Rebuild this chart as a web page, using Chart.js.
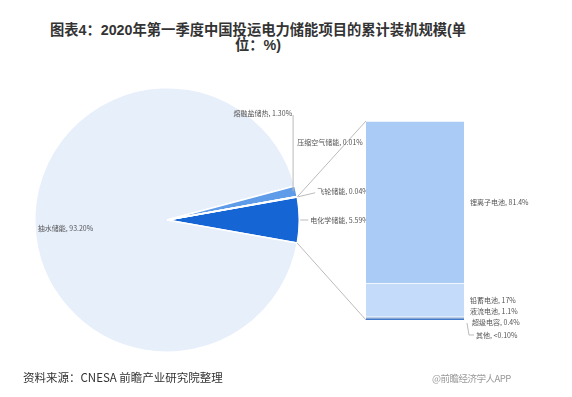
<!DOCTYPE html>
<html>
<head>
<meta charset="utf-8">
<script src="https://cdn.jsdelivr.net/npm/chart.js@4.4.1/dist/chart.umd.min.js"></script>
<style>
  body { margin: 0; background: #fff; font-family: "Noto Sans CJK SC", sans-serif; }
  #stage { position: relative; width: 572px; height: 397px; overflow: hidden; }
  #title {
    position: absolute; left: 0; top: 23px; width: 516px; text-align: center;
    font: bold 14.3px "Liberation Sans", "Noto Sans CJK SC", sans-serif; line-height: 15px; color: #333;
  }
  .layer { position: absolute; left: 0; top: 60px; width: 572px; height: 320px; }
  #source { position: absolute; left: 23px; top: 369px; font-size: 11.5px; color: #333; }
  #mark { position: absolute; left: 432px; top: 371px; font-size: 9.5px; color: #999; letter-spacing: -0.5px; }
</style>
</head>
<body>
<div id="stage">
  <div id="title">图表4：2020年第一季度中国投运电力储能项目的累计装机规模(单<br>位：%)</div>
  <canvas id="pieChart" class="layer" width="572" height="320"></canvas>
  <canvas id="barChart" class="layer" width="572" height="320"></canvas>
  <div id="source">资料来源：CNESA 前瞻产业研究院整理</div>
  <div id="mark">@前瞻经济学人APP</div>
</div>

<script>
// Pie: storage types (order = clockwise drawing order)
const pieLabels = ["电化学储能", "抽水储能", "熔融盐储热", "压缩空气储能", "飞轮储能"];
const pieValues = [5.59, 93.20, 1.30, 0.01, 0.04];
const pieColors = ["#1565d4", "#e7effb", "#5e9be8", "#3f7fde", "#3f7fde"];

// Bar: electrochemical breakdown (bottom to top)
const barLabels = ["其他", "超级电容", "液流电池", "铅蓄电池", "锂离子电池"];
const barValues = [0.1, 0.4, 1.1, 17, 81.4];
const barValueText = ["<0.10%", "0.4%", "1.1%", "17%", "81.4%"];
const barColors = ["#0d47a1", "#1f62cc", "#7b9fd0", "#c4dcf9", "#a9cbf6"];

const labelFont = '7px "Noto Sans CJK SC"';
const labelColor = "#555";
const lineColor = "#bbb";

const pieTotal = pieValues.reduce((a, b) => a + b, 0);
// centre the electrochemical slice on 3 o'clock
const startRotation = 90 - (pieValues[0] / pieTotal) * 360 / 2;

function arcPoint(arc, angle, r) {
    return {
        x: arc.x + Math.cos(angle) * r,
        y: arc.y + Math.sin(angle) * r
    };
}


// Bar chart

const barChart = new Chart(document.getElementById("barChart"), {

    type: "bar",

    data: {
        labels: ["电化学储能"],
        datasets: barLabels.map((name, i) => ({
            label: name,
            data: [barValues[i]],
            backgroundColor: barColors[i],
            borderColor: "#fff",
            borderWidth: { top: 1 },
            borderSkipped: false,
            barPercentage: 1,
            categoryPercentage: 1
        }))
    },

    options: {
        responsive: false,
        animation: false,
        layout: { padding: { left: 366, right: 108, top: 61, bottom: 60 } },
        scales: {
            x: { stacked: true, display: false },
            y: { stacked: true, display: false, min: 0, max: 100 }
        },
        plugins: {
            legend: { display: false },
            tooltip: { enabled: false }
        }
    },

    plugins: [{
        id: "barLabels",
        afterDraw(chart) {
            const c = chart.ctx;
            const area = chart.chartArea;
            const right = area.right;
            const bottom = area.bottom;
            c.save();
            c.font = labelFont;
            c.fillStyle = labelColor;
            c.textBaseline = "middle";
            c.textAlign = "left";
            const texts = barLabels.map((n, i) => n + ", " + barValueText[i]);
            // big segments at their own centre
            [4, 3].forEach(i => {
                const el = chart.getDatasetMeta(i).data[0];
                c.fillText(texts[i], right + 6, (el.y + el.base) / 2);
            });
            c.fillText(texts[2], right + 6, bottom - 9);
            c.fillText(texts[1], right + 8, bottom + 2);
            c.fillText(texts[0], right + 12, bottom + 15);
            c.strokeStyle = lineColor;
            c.lineWidth = 1;
            c.beginPath();
            c.moveTo(right + 3, bottom + 3);
            c.lineTo(right + 5, bottom + 15);
            c.lineTo(right + 10, bottom + 15);
            c.stroke();
            c.restore();
        }
    }]
});


// Pie chart

new Chart(document.getElementById("pieChart"), {

    type: "pie",

    data: {
        labels: pieLabels,
        datasets: [{
            data: pieValues,
            backgroundColor: pieColors,
            borderColor: "#fff",
            borderWidth: 1.5
        }]
    },

    options: {
        responsive: false,
        animation: false,
        rotation: startRotation,
        layout: { padding: { left: 34, right: 272, top: 27, bottom: 27 } },
        plugins: {
            legend: { display: false },
            tooltip: { enabled: false }
        }
    },

    plugins: [{
        id: "pieLabels",
        afterDraw(chart) {
            const c = chart.ctx;
            const arcs = chart.getDatasetMeta(0).data;
            const texts = pieLabels.map((n, i) => n + ", " + pieValues[i].toFixed(2) + "%");
            const mid = a => (a.startAngle + a.endAngle) / 2;
            const R = arcs[0].outerRadius;

            c.save();
            c.strokeStyle = lineColor;
            c.lineWidth = 1;

            // connectors to the stacked bar
            const top = barChart.getDatasetMeta(4).data[0];
            const bot = barChart.getDatasetMeta(0).data[0];
            const p1 = arcPoint(arcs[0], arcs[0].startAngle, R);
            const p2 = arcPoint(arcs[0], arcs[0].endAngle, R);
            c.beginPath();
            c.moveTo(p1.x, p1.y);
            c.lineTo(top.x - top.width / 2, top.y);
            c.moveTo(p2.x, p2.y);
            c.lineTo(bot.x - bot.width / 2, bot.base);
            c.stroke();

            c.font = labelFont;
            c.fillStyle = labelColor;
            c.textBaseline = "middle";

            // electrochemical
            let p = arcPoint(arcs[0], mid(arcs[0]), R);
            c.beginPath();
            c.moveTo(p.x + 1, p.y);
            c.lineTo(p.x + 9, p.y);
            c.stroke();
            c.textAlign = "left";
            c.fillText(texts[0], p.x + 11, p.y);

            // pumped hydro, inside the pie
            c.fillText(texts[1], arcs[1].x - R + 3, arcs[1].y + 8);

            // molten salt
            p = arcPoint(arcs[2], mid(arcs[2]), R);
            c.beginPath();
            c.moveTo(p.x - 3, p.y);
            c.lineTo(p.x - 3, arcs[2].y - 105);
            c.stroke();
            c.textAlign = "right";
            c.fillText(texts[2], p.x - 4, arcs[2].y - 107);

            // compressed air
            p = arcPoint(arcs[3], mid(arcs[3]), R);
            c.textAlign = "left";
            c.fillText(texts[3], p.x, arcs[3].y - 78);

            // flywheel
            p = arcPoint(arcs[4], mid(arcs[4]), R);
            c.beginPath();
            c.moveTo(p.x + 1, p.y);
            c.lineTo(p.x + 18, p.y - 4);
            c.stroke();
            c.fillText(texts[4], p.x + 20, p.y - 5);

            c.restore();
        }
    }]
});
</script>
</body>
</html>
